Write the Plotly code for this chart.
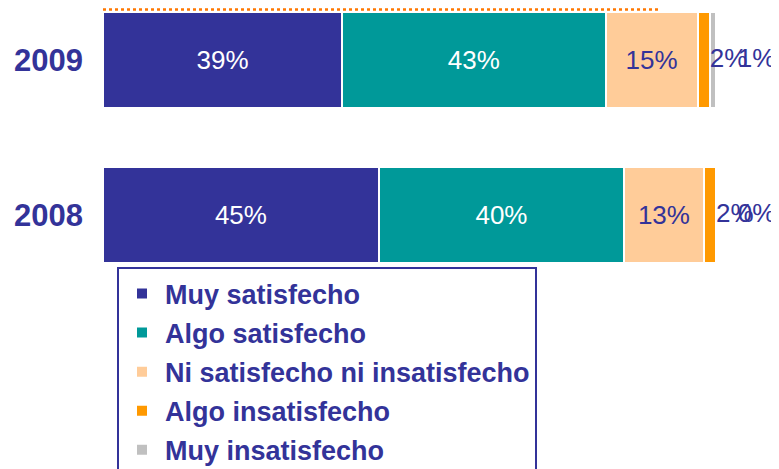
import plotly.graph_objects as go

years = ["2009", "2008"]
categories = ["Muy satisfecho", "Algo satisfecho", "Ni satisfecho ni insatisfecho",
              "Algo insatisfecho", "Muy insatisfecho"]
muy_satisfecho = [39, 45]
algo_satisfecho = [43, 40]
ni_ni = [15, 13]
algo_insatisfecho = [2, 2]
muy_insatisfecho = [1, 0]

series = [muy_satisfecho, algo_satisfecho, ni_ni, algo_insatisfecho, muy_insatisfecho]
colors = ["#333399", "#009999", "#FFCC99", "#FF9900", "#C0C0C0"]
text_colors = ["white", "white", "#333399", "#333399", "#333399"]

FONT = "Arial, Liberation Sans, sans-serif"
NAVY = "#333399"

fig = go.Figure()
for name, vals, col, tcol in zip(categories, series, colors, text_colors):
    fig.add_trace(go.Bar(
        y=years, x=vals, name=name, orientation="h",
        marker=dict(color=col, line=dict(color="white", width=2)),
        text=[f"{v}%" if v >= 5 else "" for v in vals],
        textposition="inside", insidetextanchor="middle", textangle=0,
        textfont=dict(family=FONT, size=26, color=tcol),
        legendgroup=name, hoverinfo="skip",
    ))

# small segments: labels outside, right of the bar end (later ones nudged further right)
lx, ly, lt = [], [], []
for i, year in enumerate(years):
    cum = 0
    k = 0
    for vals in series:
        cum += vals[i]
        if vals[i] < 5:
            lx.append(cum)
            ly.append(year)
            lt.append("\u00a0" * (3 * k) + f"{vals[i]}%")
            k += 1
fig.add_trace(go.Scatter(
    x=lx, y=ly, text=lt, mode="text", textposition="middle right",
    textfont=dict(family=FONT, size=26, color=NAVY),
    cliponaxis=False, showlegend=False, hoverinfo="skip",
))

# cut-off dotted line at the top
fig.add_shape(type="line", xref="paper", yref="paper", x0=0, x1=0.909,
              y0=0.994, y1=0.994, line=dict(color="#FF7700", width=2.5, dash="dot"))

fig.update_layout(
    width=771, height=480,
    margin=dict(l=95, r=63, t=0, b=218),
    barmode="stack", bargap=0.38,
    plot_bgcolor="white", paper_bgcolor="white",
    font=dict(family=FONT, color=NAVY),
    xaxis=dict(range=[0, 100], showticklabels=False, showgrid=False, zeroline=False,
               showline=False, fixedrange=True),
    yaxis=dict(type="category", categoryorder="array", categoryarray=["2008", "2009"],
               range=[-0.3548, 1.3355], showgrid=False, zeroline=False, showline=False,
               ticklabelstandoff=19,
               tickfont=dict(family=FONT, size=31, color=NAVY, weight="bold")),
    legend=dict(x=0.0228, y=0.01, xanchor="left", yanchor="top",
                traceorder="grouped", tracegroupgap=1, itemwidth=36,
                bordercolor=NAVY, borderwidth=2, bgcolor="white",
                font=dict(family=FONT, size=27, color=NAVY, weight="bold")),
    showlegend=True,
)

fig.write_html("out.html")
